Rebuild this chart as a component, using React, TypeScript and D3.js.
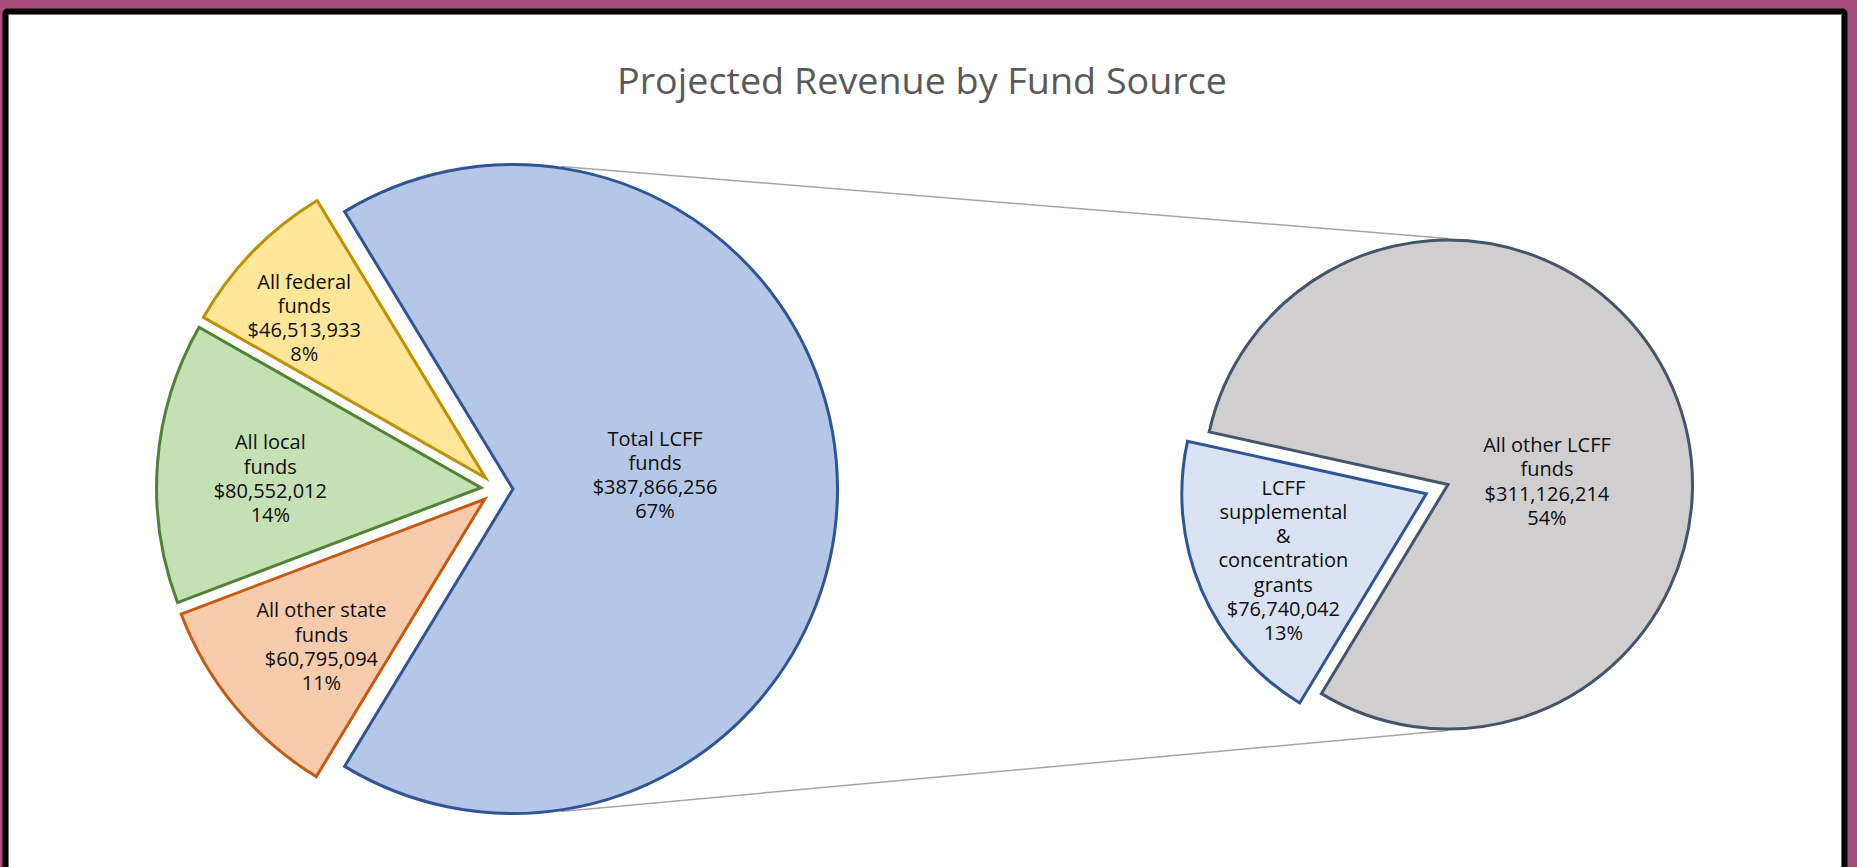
import React from 'react';
import * as d3 from 'd3';

// ---------- data ----------
const chartTitle = 'Projected Revenue by Fund Source';

// primary pie, in drawing order (clockwise starting with the combined LCFF slice)
const primaryCategories = ['Total LCFF funds', 'All other state funds', 'All local funds', 'All federal funds'];
const primaryLabelNames = [['Total LCFF', 'funds'], ['All other state', 'funds'], ['All local', 'funds'], ['All federal', 'funds']];
const primaryValues = [387866256, 60795094, 80552012, 46513933];

// secondary pie (split of Total LCFF funds)
const secondaryCategories = ['LCFF supplemental & concentration grants', 'All other LCFF funds'];
const secondaryLabelNames = [['LCFF', 'supplemental', '&', 'concentration', 'grants'], ['All other LCFF', 'funds']];
const secondaryValues = [76740042, 311126214];

// ---------- layout / style ----------
const W = 1857;
const H = 867;
const P = { cx: 497, cy: 489, r: 324.5, explode: [16, 16, 16, 16] };
const S = { cx: 1448, cy: 484.5, r: 244.5, explode: [23.6, 0], startDeg: 211.2 };
const primaryFills = ['#B4C7E7', '#F8CBAD', '#C5E0B4', '#FFE699'];
const primaryStrokes = ['#2F5597', '#C55A11', '#538135', '#BF9000'];
const secondaryFills = ['#DAE3F3', '#D0CECE'];
const secondaryStrokes = ['#2F5597', '#44546A'];
// label placement: math angle (deg, ccw from east) and distance as fraction of radius
const primaryLabelPos = [
  { a: 5.8, f: 0.44 },
  { a: 222, f: 0.677 },
  { a: 177.4, f: 0.65 },
  { a: 138.5, f: 0.746 },
];
const secondaryLabelPos = [
  { a: 204.8, f: 0.644 },
  { a: 2, f: 0.405 },
];
const connectorDeg = 81.5;
const FONT = "'Open Sans', 'DejaVu Sans', sans-serif";
const LABEL_SIZE = 20;
const LINE_H = 24.2;

const fmtMoney = d3.format('$,');
const fmtPct = d3.format('.0%');
const rad = (deg: number) => (deg * Math.PI) / 180;

type Slice = {
  path: string;
  tx: number;
  ty: number;
  fill: string;
  stroke: string;
  lines: string[];
  lx: number;
  ly: number;
  key: string;
};

function buildSlices(
  values: number[],
  cats: string[],
  names: string[][],
  total: number,
  cfg: { cx: number; cy: number; r: number; explode: number[] },
  start: number,
  fills: string[],
  strokes: string[],
  labelPos: { a: number; f: number }[]
): Slice[] {
  const pie = d3
    .pie<number>()
    .sort(null)
    .value((v) => v)
    .startAngle(start)
    .endAngle(start + 2 * Math.PI);
  const arc = d3.arc<d3.PieArcDatum<number>>().innerRadius(0).outerRadius(cfg.r);
  return pie(values).map((d, i) => {
    const mid = (d.startAngle + d.endAngle) / 2;
    const e = cfg.explode[i];
    const tx = cfg.cx + e * Math.sin(mid);
    const ty = cfg.cy - e * Math.cos(mid);
    const lp = labelPos[i];
    const lx = tx + lp.f * cfg.r * Math.cos(rad(lp.a));
    const ly = ty - lp.f * cfg.r * Math.sin(rad(lp.a));
    return {
      key: cats[i],
      path: arc(d) as string,
      tx,
      ty,
      fill: fills[i],
      stroke: strokes[i],
      lines: [...names[i], fmtMoney(values[i]), fmtPct(values[i] / total)],
      lx,
      ly,
    };
  });
}

export default function App() {
  const total = d3.sum(primaryValues);
  const lcffFrac = primaryValues[0] / total;
  const primaryStart = Math.PI / 2 - lcffFrac * Math.PI;

  const prim = buildSlices(
    primaryValues,
    primaryCategories,
    primaryLabelNames,
    total,
    P,
    primaryStart,
    primaryFills,
    primaryStrokes,
    primaryLabelPos
  );
  const sec = buildSlices(
    secondaryValues,
    secondaryCategories,
    secondaryLabelNames,
    total,
    S,
    rad(S.startDeg),
    secondaryFills,
    secondaryStrokes,
    secondaryLabelPos
  );

  const lcff = prim[0];
  const topStart = [lcff.tx + (P.r + 1.5) * Math.cos(rad(connectorDeg)), lcff.ty - (P.r + 1.5) * Math.sin(rad(connectorDeg))];
  const botStart = [lcff.tx + (P.r + 1.5) * Math.cos(rad(-connectorDeg)), lcff.ty - (P.r + 1.5) * Math.sin(rad(-connectorDeg))];
  const topEnd = [S.cx, S.cy - S.r - 1.5];
  const botEnd = [S.cx, S.cy + S.r + 1.5];

  const renderLabel = (s: Slice) => {
    const n = s.lines.length;
    return (
      <text
        key={'l' + s.key}
        fontFamily={FONT}
        fontSize={LABEL_SIZE}
        fill="#0d0d0d"
        textAnchor="middle"
      >
        {s.lines.map((t, i) => (
          <tspan key={i} x={s.lx} y={s.ly + (i - (n - 1) / 2) * LINE_H} dominantBaseline="central">
            {t}
          </tspan>
        ))}
      </text>
    );
  };

  return (
    <svg
      width={W}
      height={H}
      viewBox={`0 0 ${W} ${H}`}
      style={{ position: 'absolute', left: 0, top: 0, display: 'block' }}
    >
      <rect x={0} y={0} width={W} height={H} fill="#A54F7A" />
      <rect x={2.5} y={8.5} width={1845} height={1000} rx={5} fill="#000" />
      <rect x={8.5} y={14.5} width={1833} height={1000} fill="#fff" stroke="#6f6f6f" strokeWidth={1} />

      <text
        x={922}
        y={93.5}
        fontFamily={FONT}
        fontSize={36}
        fill="#595959"
        textAnchor="middle"
        textLength={610}
        lengthAdjust="spacingAndGlyphs"
      >
        {chartTitle}
      </text>

      <line x1={topStart[0]} y1={topStart[1]} x2={topEnd[0]} y2={topEnd[1]} stroke="#A6A6A6" strokeWidth={1.5} />
      <line x1={botStart[0]} y1={botStart[1]} x2={botEnd[0]} y2={botEnd[1]} stroke="#A6A6A6" strokeWidth={1.5} />

      {[...prim, ...sec].map((s) => (
        <path
          key={s.key}
          d={s.path}
          transform={`translate(${s.tx},${s.ty})`}
          fill={s.fill}
          stroke={s.stroke}
          strokeWidth={3}
          strokeLinejoin="miter"
        />
      ))}

      {[...prim, ...sec].map(renderLabel)}
    </svg>
  );
}
